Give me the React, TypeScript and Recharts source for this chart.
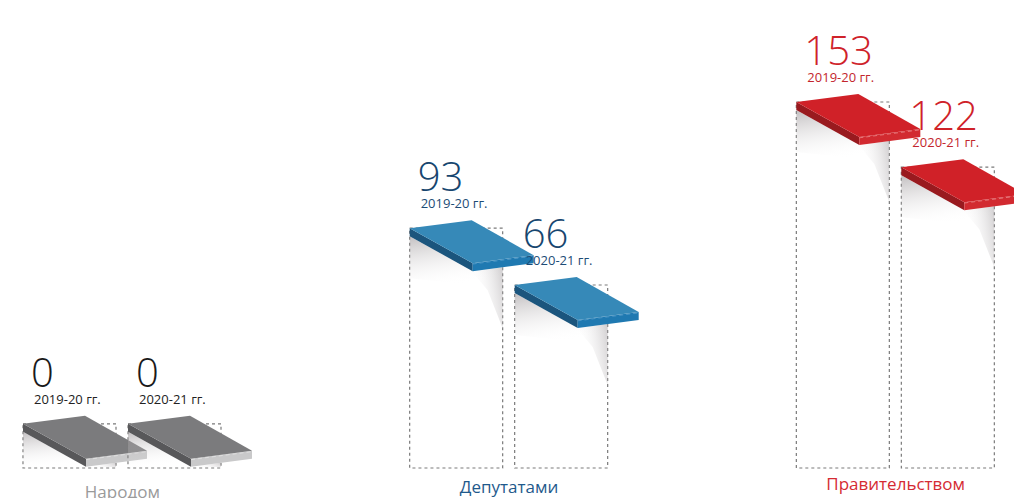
import React from 'react';
import { BarChart, Bar, XAxis, YAxis } from 'recharts';

const categories = ['Народом', 'Депутатами', 'Правительством'];
const values2019 = [0, 93, 153];
const values2020 = [0, 66, 122];
const periodLabels = ['2019-20 гг.', '2020-21 гг.'];

const data = categories.map((c, i) => ({ category: c, y2019: values2019[i], y2020: values2020[i] }));

const themes = [
  { top: '#7b7b7d', side: '#58585a', front: '#c9c9ca', hl: '#e4e4e4', num: '#1a1a1a', year: '#222222', cat: '#9a9a9a' },
  { top: '#3689b8', side: '#1b557d', front: '#1f79b1', hl: '#5aa0cc', num: '#17466f', year: '#1d4c76', cat: '#1f5a8c' },
  { top: '#d02128', side: '#991a1f', front: '#d22a30', hl: '#ec8a8d', num: '#cf2229', year: '#c3262d', cat: '#d52b33' },
];

const catDy = [30, 25, 22];

const makeShape = (key: string, period: string) => (props: any) => {
  const { x, y, width, payload, index, background } = props;
  const t = themes[index] || themes[0];
  const bottom = background ? background.y + background.height : y + (props.height || 0);
  const w = width;
  const th = 8;
  const A = [x, y];
  const B = [x + 62, y - 8];
  const C = [x + 124, y + 27];
  const D = [x + 63, y + 35];
  const cl = (v: number) => Math.min(v, bottom - 1);
  const pts = (arr: number[][]) => arr.map((p) => p.join(',')).join(' ');
  const gid = `sh-${key}-${index}`;
  const gid2 = `sh2-${key}-${index}`;
  return (
    <g>
      <defs>
        <linearGradient id={gid} x1="0" y1="0" x2="0.3" y2="1">
          <stop offset="0%" stopColor="#8f898c" stopOpacity={0.55} />
          <stop offset="100%" stopColor="#ffffff" stopOpacity={0} />
        </linearGradient>
        <linearGradient id={gid2} x1="0" y1="0.3" x2="1" y2="0">
          <stop offset="0%" stopColor="#ffffff" stopOpacity={0} />
          <stop offset="100%" stopColor="#a29da0" stopOpacity={0.5} />
        </linearGradient>
      </defs>
      <rect x={x} y={y} width={w} height={Math.max(0, bottom - y)} fill="none" stroke="#7a7a7a" strokeWidth={1.2} strokeDasharray="3 3" />
      <polygon points={pts([[x, y + th], [x + 63, y + 35 + th], [x + w, y + 39], [x + w, cl(y + 60)], [x, cl(y + 50)]])} fill={`url(#${gid})`} />
      <polygon points={pts([[x + 62, y + 35 + th], [x + w, y + 39], [x + w, cl(y + 100)], [x + 78, cl(y + 62)]])} fill={`url(#${gid2})`} />
      <polygon points={pts([A, D, [D[0], D[1] + th], [A[0], A[1] + th]])} fill={t.side} />
      <polygon points={pts([D, C, [C[0], C[1] + th], [D[0], D[1] + th]])} fill={t.front} />
      <polygon points={pts([A, B, C, D])} fill={t.top} />
      <line x1={D[0]} y1={D[1] + 0.8} x2={C[0]} y2={C[1] + 0.8} stroke={t.hl} strokeWidth={0.8} strokeDasharray="4 3" />
      <text x={x + 8} y={y - 37} fill={t.num} fontFamily="'Open Sans', sans-serif" fontWeight={300} fontSize={40}>
        {payload[key]}
      </text>
      <text x={x + 11} y={y - 20} fill={t.year} fontFamily="'Open Sans', sans-serif" fontSize={13}>
        {period}
      </text>
    </g>
  );
};

const CatTick = (props: any) => {
  const { x, y, payload, index } = props;
  const t = themes[index] || themes[0];
  return (
    <text x={x} y={y + catDy[index]} textAnchor="middle" fill={t.cat} fontFamily="'Open Sans', sans-serif" fontSize={17}>
      {payload.value}
    </text>
  );
};

export default function App() {
  return (
    <div style={{ position: 'absolute', left: 0, top: 0, width: 1014, height: 498, overflow: 'hidden', background: '#fff' }}>
      <div style={{ position: 'absolute', left: -71, top: 0 }}>
        <BarChart width={1160} height={498} data={data} margin={{ top: 61, right: 0, bottom: 0, left: 0 }} barSize={93} barGap={12}>
          <XAxis dataKey="category" axisLine={false} tickLine={false} tickSize={0} tickMargin={0} height={30} tick={<CatTick />} interval={0} />
          <YAxis hide domain={[-21, 172.5]} type="number" />
          <Bar dataKey="y2019" isAnimationActive={false} shape={makeShape('y2019', periodLabels[0])} />
          <Bar dataKey="y2020" isAnimationActive={false} shape={makeShape('y2020', periodLabels[1])} />
        </BarChart>
      </div>
    </div>
  );
}
